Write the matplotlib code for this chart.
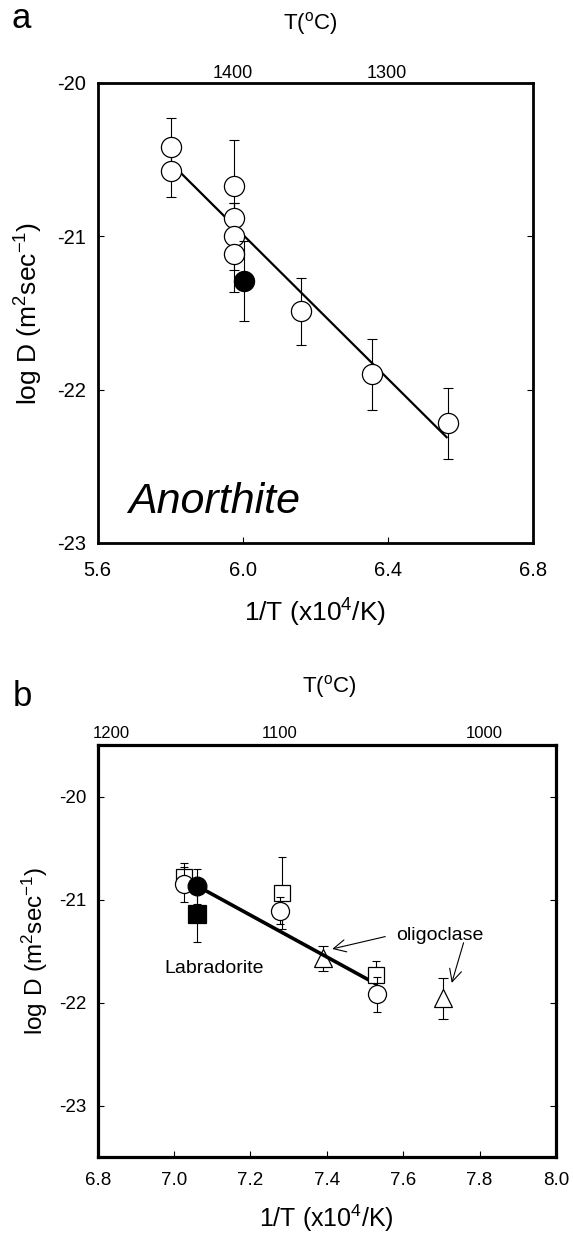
import matplotlib
matplotlib.use("Agg")
import matplotlib.pyplot as plt

plt.rcParams["font.family"] = ["Liberation Sans", "DejaVu Sans"]
plt.rcParams["mathtext.fontset"] = "custom"
plt.rcParams["mathtext.rm"] = "Liberation Sans"
plt.rcParams["mathtext.it"] = "Liberation Sans:italic"
plt.rcParams["axes.unicode_minus"] = False

# ── panel a: anorthite ───────────────────────────────────────────────────────
an_x   = [5.802, 5.802, 5.975, 5.975, 5.975, 5.975, 6.160, 6.356, 6.565]
an_y   = [-20.415, -20.574, -20.67, -20.88, -21.00, -21.115, -21.49, -21.90, -22.22]
an_err = [0.19, 0.17, 0.30, 0.10, 0.22, 0.25, 0.22, 0.23, 0.23]
an_fill_x, an_fill_y, an_fill_err = [6.003], [-21.29], [0.26]
fit_a_x, fit_a_y = [5.831, 6.562], [-20.59, -22.31]
a_xticks = [5.6, 6.0, 6.4, 6.8]
a_yticks = [-20, -21, -22, -23]
a_top_pos = [5.972, 6.397]
a_top_lab = ["1400", "1300"]

# ── panel b: labradorite / oligoclase ────────────────────────────────────────
b_circ_x, b_circ_y, b_circ_err = [7.025, 7.277, 7.531], [-20.85, -21.11, -21.92], [0.17, 0.13, 0.17]
b_sq_x, b_sq_y, b_sq_err = [7.025, 7.282, 7.529], [-20.78, -20.94, -21.73], [0.13, 0.35, 0.13]
b_fcirc_x, b_fcirc_y, b_fcirc_err = [7.061], [-20.87], [0.17]
b_fsq_x, b_fsq_y, b_fsq_err = [7.061], [-21.14], [0.27]
b_tri_x, b_tri_y, b_tri_err = [7.391, 7.705], [-21.57, -21.96], [0.12, 0.20]
fit_b_x, fit_b_y = [7.061, 7.529], [-20.87, -21.82]
b_xticks = [6.8, 7.0, 7.2, 7.4, 7.6, 7.8, 8.0]
b_yticks = [-20, -21, -22, -23]
b_top_pos = [6.835, 7.277, 7.813]
b_top_lab = ["1200", "1100", "1000"]

W, H = 573, 1233
fig = plt.figure(figsize=(W / 100, H / 100), dpi=100)


def style_axes(ax, lw, fs, xpad, ypad):
    for s in ax.spines.values():
        s.set_linewidth(lw)
    ax.tick_params(direction="in", length=4, width=0.8, right=True, top=False,
                   labelsize=fs)
    ax.tick_params(axis="x", pad=xpad)
    ax.tick_params(axis="y", pad=ypad)


def errpts(ax, x, y, e, marker, ms, fc, z, cap=3.5):
    ax.errorbar(x, y, yerr=e, fmt="none", ecolor="black", elinewidth=0.8,
                capsize=cap, capthick=0.8, zorder=z - 0.5)
    ax.plot(x, y, ls="none", marker=marker, ms=ms, mfc=fc, mec="black",
            mew=0.9, zorder=z)


def top_axis(ax, pos, lab, fs, pad, ycoord, xcoord):
    ax2 = ax.twiny()
    ax2.set_xlim(ax.get_xlim())
    ax2.set_xticks(pos)
    ax2.set_xticklabels(lab)
    ax2.tick_params(axis="x", length=0, labelsize=fs, pad=pad)
    ax2.set_xlabel(r"T($^{\rm o}$C)", fontsize=16)
    ax2.xaxis.set_label_coords(xcoord, ycoord)
    ax2.xaxis.label.set_va("center")
    for s in ax2.spines.values():
        s.set_visible(False)
    return ax2


# ── a ──
ax = fig.add_axes([97.5 / W, 1 - 543 / H, 435.5 / W, 460 / H])
ax.set_xlim(5.6, 6.8)
ax.set_ylim(-23, -20)
ax.set_xticks(a_xticks)
ax.set_xticklabels([f"{v:.1f}" for v in a_xticks])
ax.set_yticks(a_yticks)
style_axes(ax, 2.0, 14.5, 13, 8)
ax.plot(fit_a_x, fit_a_y, color="black", lw=1.6, zorder=2)
errpts(ax, an_x, an_y, an_err, "o", 14.5, "white", 4)
errpts(ax, an_fill_x, an_fill_y, an_fill_err, "o", 14.5, "black", 5)
ax.text(5.684, -22.805, "Anorthite", fontsize=31, style="italic", ha="left",
        va="baseline")
ax.set_xlabel(r"1/T (x10$^{4}$/K)", fontsize=19)
ax.xaxis.set_label_coords(0.5, -0.152)
ax.xaxis.label.set_va("center")
ax.set_ylabel(r"log D (m$^{2}$sec$^{-1}$)", fontsize=19)
ax.yaxis.set_label_coords(-0.158, 0.5)
ax.yaxis.label.set_va("center")
top_axis(ax, a_top_pos, a_top_lab, 13, 1.0, 1.13, 0.488)
fig.text(21 / W, 1 - 18 / H, "a", fontsize=25, ha="center", va="center")

# ── b ──
bx = fig.add_axes([97.7 / W, 1 - 1157 / H, 458.3 / W, 412 / H])
bx.set_xlim(6.8, 8.0)
bx.set_ylim(-23.5, -19.5)
bx.set_xticks(b_xticks)
bx.set_xticklabels([f"{v:.1f}" for v in b_xticks])
bx.set_yticks(b_yticks)
style_axes(bx, 2.3, 13.5, 11, 8)
errpts(bx, b_tri_x, b_tri_y, b_tri_err, "^", 13, "white", 2)
bx.plot(fit_b_x, fit_b_y, color="black", lw=2.6, zorder=3)
errpts(bx, b_sq_x, b_sq_y, b_sq_err, "s", 11.5, "white", 4, cap=3)
errpts(bx, b_circ_x, b_circ_y, b_circ_err, "o", 13, "white", 5, cap=3)
errpts(bx, b_fsq_x, b_fsq_y, b_fsq_err, "s", 13, "black", 6, cap=3)
errpts(bx, b_fcirc_x, b_fcirc_y, b_fcirc_err, "o", 13.5, "black", 7, cap=3)
bx.text(6.974, -21.71, "Labradorite", fontsize=14, ha="left", va="baseline")
bx.text(7.581, -21.39, "oligoclase", fontsize=14, ha="left", va="baseline")
arrow = dict(arrowstyle="->", lw=0.8, color="black", mutation_scale=22,
             shrinkA=0, shrinkB=0)
bx.annotate("", xy=(7.414, -21.48), xytext=(7.553, -21.36), arrowprops=arrow)
bx.annotate("", xy=(7.727, -21.81), xytext=(7.758, -21.42), arrowprops=arrow)
bx.set_xlabel(r"1/T (x10$^{4}$/K)", fontsize=18)
bx.xaxis.set_label_coords(0.5, -0.150)
bx.xaxis.label.set_va("center")
bx.set_ylabel(r"log D (m$^{2}$sec$^{-1}$)", fontsize=17.5)
bx.yaxis.set_label_coords(-0.137, 0.5)
bx.yaxis.label.set_va("center")
top_axis(bx, b_top_pos, b_top_lab, 12, 3, 1.143, 0.506)
fig.text(22 / W, 1 - 696 / H, "b", fontsize=25, ha="center", va="center")

fig.savefig("out.png", dpi=100)
